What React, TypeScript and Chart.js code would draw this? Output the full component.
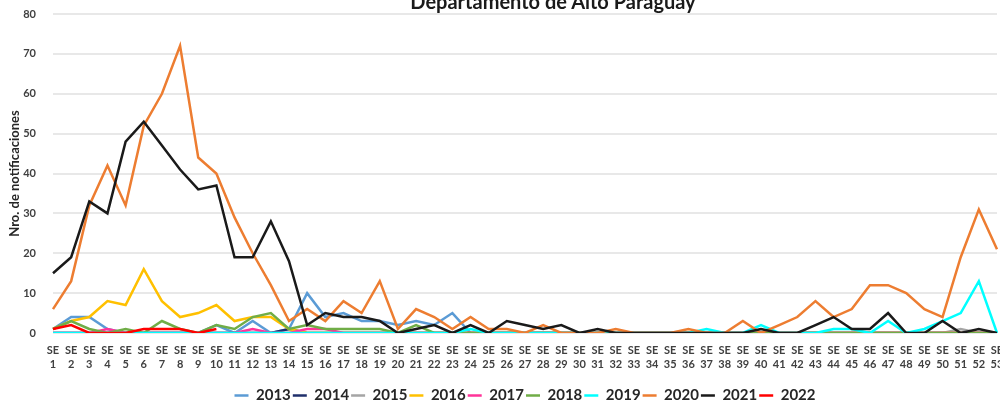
import { useEffect, useRef } from "react";
import { Chart, registerables } from "chart.js";

Chart.register(...registerables);

const chartTitle = "Departamento de Alto Paraguay";
const yAxisTitle = "Nro. de notificaciones";

const weeks = [
  "1", "2", "3", "4", "5", "6", "7", "8", "9", "10",
  "11", "12", "13", "14", "15", "16", "17", "18", "19", "20",
  "21", "22", "23", "24", "25", "26", "27", "28", "29", "30",
  "31", "32", "33", "34", "35", "36", "37", "38", "39", "40",
  "41", "42", "43", "44", "45", "46", "47", "48", "49", "50",
  "51", "52", "53",
];

const years = ["2013", "2014", "2015", "2016", "2017", "2018", "2019", "2020", "2021", "2022"];

const yTicks = [0, 10, 20, 30, 40, 50, 60, 70, 80];

const v2013 = [
  1, 4, 4, 1, 0, 0, 0, 0, 0, 2,
  0, 3, 0, 1, 10, 4, 5, 3, 3, 2,
  3, 2, 5, 0, 0, 0, 0, 0, 0, 0,
  0, 0, 0, 0, 0, 0, 0, 0, 0, 0,
  0, 0, 0, 0, 0, 0, 0, 0, 0, 0,
  0, 0, 0,
];
const v2014 = [
  0, 0, 0, 0, 0, 0, 0, 0, 0, 0,
  0, 0, 0, 1, 0, 0, 0, 0, 0, 0,
  0, 0, 0, 0, 0, 0, 0, 0, 0, 0,
  0, 0, 0, 0, 0, 0, 0, 0, 0, 0,
  0, 0, 0, 0, 0, 0, 0, 0, 0, 0,
  0, 0, 0,
];
const v2015 = [
  0, 0, 0, 0, 0, 0, 0, 0, 0, 0,
  0, 0, 0, 0, 0, 0, 0, 0, 0, 0,
  0, 0, 0, 0, 0, 0, 0, 0, 0, 0,
  0, 0, 0, 0, 0, 0, 0, 0, 0, 0,
  0, 0, 0, 0, 0, 0, 0, 0, 0, 0,
  1, 0, 0,
];
const v2016 = [
  1, 3, 4, 8, 7, 16, 8, 4, 5, 7,
  3, 4, 4, 1, 0, 0, 0, 0, 0, 0,
  0, 0, 0, 0, 0, 0, 0, 0, 0, 0,
  0, 0, 0, 0, 0, 0, 0, 0, 0, 0,
  0, 0, 0, 0, 0, 0, 0, 0, 0, 0,
  0, 0, 0,
];
const v2017 = [
  0, 0, 0, 1, 0, 0, 0, 0, 0, 0,
  0, 1, 0, 0, 1, 1, 0, 0, 0, 0,
  0, 0, 0, 0, 0, 0, 0, 0, 0, 0,
  0, 0, 0, 0, 0, 0, 0, 0, 0, 0,
  0, 0, 0, 0, 0, 0, 0, 0, 0, 0,
  0, 0, 0,
];
const v2018 = [
  1, 3, 1, 0, 1, 0, 3, 1, 0, 2,
  1, 4, 5, 1, 2, 1, 1, 1, 1, 0,
  2, 0, 0, 0, 0, 0, 0, 0, 0, 0,
  0, 0, 0, 0, 0, 0, 0, 0, 0, 0,
  0, 0, 0, 0, 0, 0, 0, 0, 0, 0,
  0, 0, 0,
];
const v2019 = [
  0, 0, 0, 0, 0, 0, 0, 0, 0, 0,
  0, 0, 0, 0, 0, 0, 0, 0, 0, 0,
  0, 0, 0, 1, 0, 0, 0, 0, 0, 0,
  0, 0, 0, 0, 0, 0, 1, 0, 0, 2,
  0, 0, 0, 1, 1, 0, 3, 0, 1, 3,
  5, 13, 0,
];
const v2020 = [
  6, 13, 32, 42, 32, 52, 60, 72, 44, 40,
  29, 20, 12, 3, 6, 3, 8, 5, 13, 1,
  6, 4, 1, 4, 1, 1, 0, 2, 0, 0,
  0, 1, 0, 0, 0, 1, 0, 0, 3, 0,
  2, 4, 8, 4, 6, 12, 12, 10, 6, 4,
  19, 31, 21,
];
const v2021 = [
  15, 19, 33, 30, 48, 53, 47, 41, 36, 37,
  19, 19, 28, 18, 2, 5, 4, 4, 3, 0,
  1, 2, 0, 2, 0, 3, 2, 1, 2, 0,
  1, 0, 0, 0, 0, 0, 0, 0, 0, 1,
  0, 0, 2, 4, 1, 1, 5, 0, 0, 3,
  0, 1, 0,
];
const v2022 = [1, 2, 0, 0, 0, 1, 1, 1, 0, 1];

const lineColors = [
  "#5B9BD5", "#1F2F6B", "#A5A5A5", "#FFC000", "#FF3399",
  "#70AD47", "#00FFFF", "#ED7D31", "#1A1A1A", "#FF0000",
];

const FONT = "Lato, 'Open Sans', sans-serif";

export default function App() {
  const ref = useRef<HTMLCanvasElement>(null);

  useEffect(() => {
    const series = [v2013, v2014, v2015, v2016, v2017, v2018, v2019, v2020, v2021, v2022];
    const chart = new Chart(ref.current as HTMLCanvasElement, {
      type: "line",
      data: {
        labels: weeks,
        datasets: years.map((y, i) => ({
          label: y,
          data: series[i],
          borderColor: lineColors[i],
          backgroundColor: lineColors[i],
          borderWidth: 2.5,
          pointRadius: 0,
          pointHoverRadius: 0,
          tension: 0,
          fill: false,
          order: years.length - i,
        })),
      },
      options: {
        responsive: false,
        animation: false,
        layout: { padding: { top: 14, left: 0, right: 0, bottom: 0 } },
        scales: {
          x: {
            offset: false,
            grid: { display: false, drawTicks: false },
            border: { display: false },
            ticks: {
              autoSkip: false,
              maxRotation: 0,
              minRotation: 0,
              padding: 10,
              color: "#404040",
              font: { family: FONT, size: 11, weight: "bold", lineHeight: 14 / 11 },
              callback: (_v: any, i: number) => ["SE", weeks[i]],
            },
            afterFit: (s: any) => {
              s.height = 53;
              s.paddingRight = 5;
            },
          },
          y: {
            min: 0,
            max: 80,
            afterBuildTicks: (s: any) => {
              s.ticks = yTicks.map((v) => ({ value: v }));
            },
            ticks: {
              padding: 17,
              color: "#404040",
              font: { family: FONT, size: 11, weight: "bold" },
            },
            grid: { color: "#e8e8e8", lineWidth: 2, drawTicks: false },
            border: { display: false },
            title: {
              display: true,
              text: yAxisTitle,
              color: "#262626",
              font: { family: FONT, size: 13, weight: "bold" },
              padding: { top: 7, bottom: 0 },
            },
            afterFit: (s: any) => {
              s.width = 53;
              s.paddingTop = 0;
              s.paddingBottom = 0;
            },
          },
        },
        plugins: {
          legend: {
            position: "bottom",
            fullSize: false,
            labels: {
              usePointStyle: true,
              pointStyle: "line",
              pointStyleWidth: 14,
              padding: 2,
              color: "#262626",
              font: { family: FONT, size: 15, weight: "bold" },
              sort: (a: any, b: any) => a.datasetIndex - b.datasetIndex,
            },
          },
          title: { display: false },
          tooltip: { enabled: false },
        },
      } as any,
    });
    return () => chart.destroy();
  }, []);

  return (
    <div
      style={{
        position: "fixed",
        left: 0,
        top: 0,
        width: 1000,
        height: 406,
        overflow: "hidden",
        background: "#ffffff",
      }}
    >
      <canvas
        ref={ref}
        width={1002}
        height={413}
        style={{ position: "absolute", left: 0, top: 0, width: 1002, height: 413 }}
      />
      <div
        style={{
          position: "absolute",
          left: 0,
          top: -9,
          width: 1106,
          textAlign: "center",
          fontFamily: FONT,
          fontWeight: "bold",
          fontSize: 20,
          lineHeight: "20px",
          color: "#1a1a1a",
          whiteSpace: "nowrap",
        }}
      >
        {chartTitle}
      </div>
    </div>
  );
}
